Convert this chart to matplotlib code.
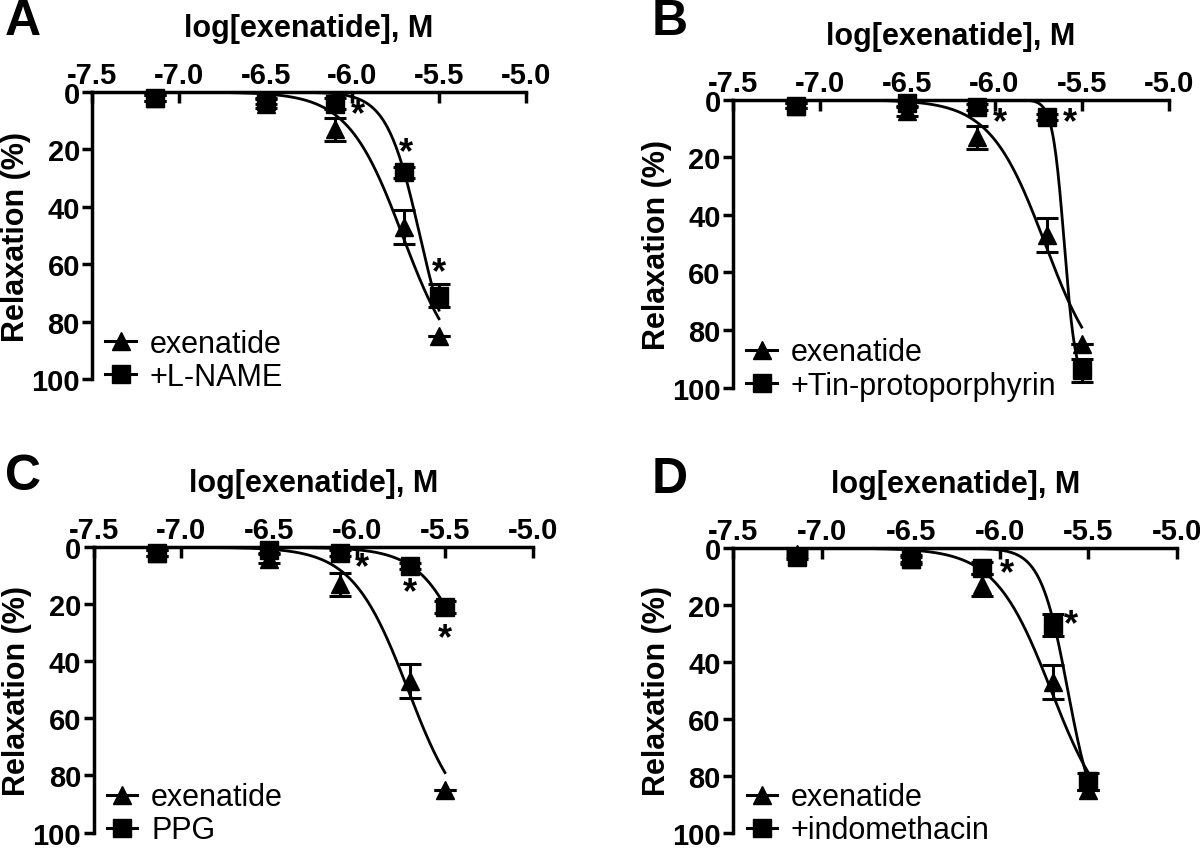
import numpy as np
import matplotlib
matplotlib.use("Agg")
import matplotlib.pyplot as plt
from matplotlib.lines import Line2D

plt.rcParams['font.family'] = ['Liberation Sans', 'DejaVu Sans']

# log[exenatide] concentrations, M
log_conc = [-7.14, -6.5, -6.1, -5.7, -5.5]

# exenatide alone (same series in every panel)
exen_mean = [2, 4, 13, 47, 85]
exen_sem = [1, 1.5, 4, 6, 0]
exen_fit = (-5.71, 2.74, 100)   # logEC50, hill slope, top

# treatment series
lname_mean = [2, 3, 4, 28, 71]
lname_sem = [1, 1, 2, 2, 4]
lname_fit = (-5.61, 4.55, 100)

tin_mean = [2, 1, 2.5, 6, 94]
tin_sem = [1, 1, 1, 1, 4]
tin_fit = (-5.6, 13, 100)

ppg_mean = [2, 1, 2, 6.5, 21]
ppg_sem = [1, 1, 1, 1, 2]
ppg_fit = (-5.30, 2.93, 100)

indo_mean = [3, 4, 7, 27, 82]
indo_sem = [1, 1, 2, 4, 3]
indo_fit = (-5.616, 5.68, 100)

# significance marks (x, y)
stars_a = [(-5.97, 8), (-5.69, 21), (-5.5, 63)]
stars_b = [(-5.97, 8), (-5.57, 8)]
stars_c = [(-5.97, 7), (-5.7, 16), (-5.5, 32)]
stars_d = [(-5.96, 9), (-5.6, 27)]

panels = [
    ("A", "+L-NAME", lname_mean, lname_sem, lname_fit, stars_a,
     [0.077, 0.555, 0.361, 0.336], (0.004, 0.974)),
    ("B", "+Tin-protoporphyrin", tin_mean, tin_sem, tin_fit, stars_b,
     [0.611, 0.545, 0.363, 0.337], (0.543, 0.974)),
    ("C", "PPG", ppg_mean, ppg_sem, ppg_fit, stars_c,
     [0.078, 0.024, 0.366, 0.334], (0.004, 0.441)),
    ("D", "+indomethacin", indo_mean, indo_sem, indo_fit, stars_d,
     [0.611, 0.024, 0.370, 0.333], (0.543, 0.438)),
]


def hill(x, fit):
    ec50, h, top = fit
    return top / (1 + 10 ** ((ec50 - x) * h))


fig = plt.figure(figsize=(12, 8.54), dpi=100)
xs = np.linspace(log_conc[0], log_conc[-1], 300)

for letter, label, mean, sem, fit, stars, rect, letter_xy in panels:
    ax = fig.add_axes(rect)
    ax.plot(xs, hill(xs, exen_fit), color='black', lw=2)
    ax.plot(xs, hill(xs, fit), color='black', lw=2)
    ax.errorbar(log_conc, exen_mean, yerr=exen_sem, fmt='^', color='black',
                ms=13, capsize=8, capthick=2.2, elinewidth=2.2, clip_on=False)
    ax.errorbar(log_conc, mean, yerr=sem, fmt='s', color='black',
                ms=13, capsize=8, capthick=2.2, elinewidth=2.2, clip_on=False)
    for sx, sy in stars:
        ax.text(sx, sy, "*", fontsize=26, fontweight='bold', ha='center', va='center')

    ax.set_xlim(-7.5, -5.0)
    ax.set_ylim(100, 0)
    ax.set_xticks([-7.5, -7.0, -6.5, -6.0, -5.5, -5.0])
    ax.set_xticklabels(["-7.5", "-7.0", "-6.5", "-6.0", "-5.5", "-5.0"])
    ax.set_yticks([0, 20, 40, 60, 80, 100])
    ax.xaxis.tick_top()
    ax.xaxis.set_label_position('top')
    ax.spines['bottom'].set_visible(False)
    ax.spines['right'].set_visible(False)
    ax.spines['top'].set_linewidth(2.5)
    ax.spines['left'].set_linewidth(2.5)
    ax.tick_params(axis='x', direction='in', length=8, width=2.5, pad=2, labelsize=21)
    ax.tick_params(axis='y', direction='out', length=7, width=2.5, pad=2, labelsize=21)
    for t in ax.get_xticklabels() + ax.get_yticklabels():
        t.set_fontweight('bold')
    ax.set_xlabel("log[exenatide], M", fontsize=22, fontweight='bold', labelpad=18)
    ax.set_ylabel("Relaxation (%)", fontsize=22, fontweight='bold', labelpad=0)

    handles = [
        Line2D([], [], color='black', lw=2.2, marker='^', ms=13),
        Line2D([], [], color='black', lw=2.2, marker='s', ms=13),
    ]
    ax.legend(handles, ["exenatide", label], loc='lower left', frameon=False,
              fontsize=22, handlelength=1.0, handletextpad=0.45, labelspacing=0.1,
              borderaxespad=0.0, borderpad=0.0, bbox_to_anchor=(0.03, -0.045))

    fig.text(letter_xy[0], letter_xy[1], letter, fontsize=36, fontweight='bold',
             va='center', ha='left')

fig.savefig("out.png", dpi=100)
